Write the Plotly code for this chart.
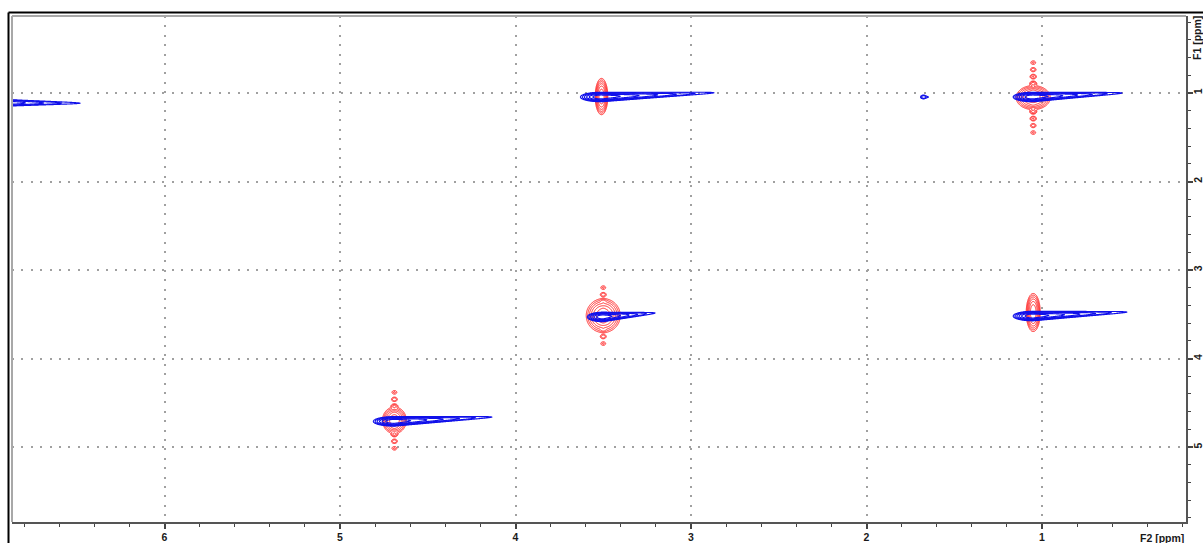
import numpy as np
import plotly.graph_objects as go

# ---------------------------------------------------------------
# 2D spectrum: F2 (direct, horizontal) vs F1 (indirect, vertical)
# ---------------------------------------------------------------
F2_RANGE = [6.869, 0.1795]   # ppm, reversed
F1_RANGE = [5.847, 0.130]    # ppm, reversed (0 at top)
MAJOR_TICKS = [1, 2, 3, 4, 5, 6]
TICK_LABELS = ["1", "2", "3", "4", "5", "6"]

# Blue cross-peak ridges: centre, ridge end, left half-extent, half-thickness, depth (levels)
blue_f2 = [3.51, 1.05, 3.50, 1.05, 4.69, 7.00, 1.672]
blue_f1 = [1.045, 1.045, 3.53, 3.52, 4.71, 1.11, 1.045]
blue_tip_f2 = [2.869, 0.544, 3.205, 0.516, 4.134, 6.481, 1.647]
blue_tip_f1 = [0.997, 1.000, 3.486, 3.475, 4.661, 1.115, 1.045]
blue_left_w = [0.120, 0.114, 0.091, 0.114, 0.120, 0.120, 0.020]
blue_half_h = [0.054, 0.054, 0.054, 0.054, 0.054, 0.046, 0.022]
blue_depth = [6, 6, 6, 6, 6, 5, 2]

# Red peaks: centre, core half-width (F2), core half-height (F1), number of t1 satellites
red_f2 = [3.51, 1.05, 3.50, 1.05, 4.69]
red_f1 = [1.040, 1.052, 3.515, 3.480, 4.698]
red_core_w = [0.036, 0.097, 0.097, 0.040, 0.068]
red_core_h = [0.205, 0.136, 0.192, 0.215, 0.150]
red_chain_n = [0, 5, 4, 0, 4]
RED_CHAIN_STEP = 0.079
RED_ISLAND_W = 0.0125
RED_ISLAND_H = 0.0185

STEP_F2 = 0.0025
STEP_F1 = 0.0045

BLUE = "#1010ea"
RED = "#ff1e1e"

fig = go.Figure()


def red_trace(f2, f1, cw, ch, n):
    half_x = cw * 1.5 + 0.02
    half_y = max(ch * 1.3, n * RED_CHAIN_STEP + 5 * RED_ISLAND_H)
    xs = np.arange(f2 - half_x, f2 + half_x, STEP_F2 * 0.8)
    ys = np.arange(f1 - half_y, f1 + half_y, STEP_F1 * 0.8)
    X, Y = np.meshgrid(xs, ys)
    sx = cw / np.sqrt(6.0)
    sy = ch / np.sqrt(6.0)
    z = np.exp(-((X - f2) / sx) ** 2 - ((Y - f1) / sy) ** 2)
    if n > 0:
        for k in range(1, n + 1):
            amp = np.exp(-3.0 - 1.8 * (k - 1) / max(n - 1, 1))
            for sgn in (-1, 1):
                z += amp * np.exp(-((X - f2) / RED_ISLAND_W) ** 2
                                  - ((Y - f1 - sgn * k * RED_CHAIN_STEP) / RED_ISLAND_H) ** 2)
    F = np.log(np.maximum(z, 1e-9)).astype(np.float32)
    return go.Contour(
        x=xs.astype(np.float32), y=ys.astype(np.float32), z=F,
        autocontour=False,
        contours=dict(coloring="none", start=-6.0, end=-1.0, size=1.0),
        line=dict(color=RED, width=1.0, smoothing=1),
        showscale=False, hoverinfo="skip",
    )


def blue_trace(f2, f1, tf2, tf1, lw, hh, depth):
    L = f2 - tf2
    xs = np.arange(tf2 - 0.02, f2 + lw * 1.3, STEP_F2)
    lo = min(f1, tf1) - 2.5 * hh
    hi = max(f1, tf1) + 2.5 * hh
    ys = np.arange(lo, hi, STEP_F1 * 0.7)
    X, Y = np.meshgrid(xs, ys)
    t = (f2 - X) / L
    tc = np.clip(t, 0, 1)
    lnA = float(depth)
    g = np.where(t >= 0, lnA * (1 - t), lnA * (1 - ((X - f2) / lw) ** 2))
    yc = f1 + (tf1 - f1) * tc
    sy = hh / np.sqrt(lnA) * (1 - 0.45 * tc)
    F = (g - ((Y - yc) / sy) ** 2).astype(np.float32)
    return go.Contour(
        x=xs.astype(np.float32), y=ys.astype(np.float32), z=F,
        autocontour=False,
        contours=dict(coloring="none", start=0.0, end=lnA - 1, size=1.0),
        line=dict(color=BLUE, width=1.15, smoothing=1),
        showscale=False, hoverinfo="skip",
    )


for i in range(len(red_f2)):
    fig.add_trace(red_trace(red_f2[i], red_f1[i], red_core_w[i], red_core_h[i], red_chain_n[i]))

for i in range(len(blue_f2)):
    fig.add_trace(blue_trace(blue_f2[i], blue_f1[i], blue_tip_f2[i], blue_tip_f1[i],
                             blue_left_w[i], blue_half_h[i], blue_depth[i]))

W, H = 1203, 543
ML, MR, MT, MB = 12, 17, 16, 21
PW, PH = W - ML - MR, H - MT - MB


def px(xp):
    return (xp - ML) / PW


def py(yp):
    return (H - MB - yp) / PH


tick_font = dict(family="Liberation Sans, Arial, sans-serif", size=10.5, color="#1a1a1a", weight="bold")
axis_common = dict(
    tickmode="array", tickvals=MAJOR_TICKS, ticktext=TICK_LABELS,
    ticks="outside", ticklen=5, tickwidth=1.5, tickcolor="#444",
    showline=True, linecolor="#555", linewidth=1.5,
    showgrid=True, gridcolor="#a0a0a0", gridwidth=1.5, griddash="2px,7.4px",
    zeroline=False, tickfont=tick_font, automargin=False,
    minor=dict(dtick=0.2, tick0=0, ticks="outside", ticklen=3, tickwidth=1.2,
               tickcolor="#444", showgrid=False),
)

fig.update_layout(
    width=W, height=H, autosize=False,
    margin=dict(l=ML, r=MR, t=MT, b=MB, pad=0),
    paper_bgcolor="white", plot_bgcolor="white",
    showlegend=False,
    xaxis=dict(range=F2_RANGE, **axis_common),
    yaxis=dict(range=F1_RANGE, side="right", tickangle=-90, ticklabelstandoff=-3, **axis_common),
    shapes=[
        # light frame on top and left of the plot area
        dict(type="line", xref="paper", yref="paper", x0=0, x1=1, y0=1, y1=1,
             line=dict(color="#a8a8a8", width=2)),
        dict(type="line", xref="paper", yref="paper", x0=0, x1=0, y0=0, y1=1,
             line=dict(color="#a8a8a8", width=2)),
        # outer black window frame
        dict(type="line", xref="paper", yref="paper", x0=px(8.5), x1=px(1215), y0=py(12.5), y1=py(12.5),
             line=dict(color="black", width=2)),
        dict(type="line", xref="paper", yref="paper", x0=px(8.5), x1=px(8.5), y0=py(12.5), y1=py(560),
             line=dict(color="black", width=2)),
    ],
    annotations=[
        dict(text="F2 [ppm]", xref="paper", yref="paper", x=px(1186), y=py(538),
             xanchor="right", yanchor="middle", showarrow=False, font=tick_font),
        dict(text="F1 [ppm]", xref="paper", yref="paper", x=px(1197), y=py(38),
             xanchor="center", yanchor="middle", textangle=-90, showarrow=False, font=tick_font),
    ],
)

fig.write_html("out.html")
